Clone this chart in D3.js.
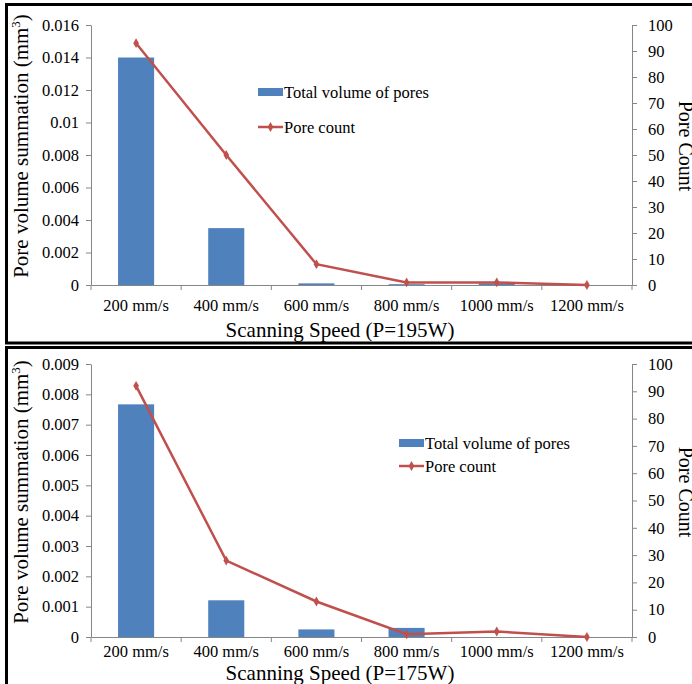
<!DOCTYPE html>
<html><head><meta charset="utf-8">
<script src="https://cdn.jsdelivr.net/npm/d3@7"></script>
<style>
html,body{margin:0;padding:0;background:#fff;}
svg{display:block;}
</style></head>
<body>
<svg id="chart" width="692" height="684"></svg>
<script>
const categories = ["200 mm/s","400 mm/s","600 mm/s","800 mm/s","1000 mm/s","1200 mm/s"];
const volume195 = [0.014, 0.0035, 0.0001, 0.00005, 0.0001, 0];
const count195  = [93, 50, 8, 1, 1, 0];
const volume175 = [0.00767, 0.00121, 0.00025, 0.0003, 0, 0];
const count175  = [92, 28, 13, 1, 2, 0];
const leftTicks195 = [0,0.002,0.004,0.006,0.008,0.01,0.012,0.014,0.016];
const leftTicks175 = [0,0.001,0.002,0.003,0.004,0.005,0.006,0.007,0.008,0.009];
const rightTicks = [0,10,20,30,40,50,60,70,80,90,100];
const seriesNames = ["Total volume of pores","Pore count"];
const xTitles = ["Scanning Speed (P=195W)","Scanning Speed (P=175W)"];

const svg = d3.select("#chart");
const BAR = "#4F81BD", LINE = "#C0504D", AXIS = "#868686";
const FONT = "'Liberation Serif', 'Times New Roman', serif";

const panels = [
  {vol: volume195, cnt: count195, ticks: leftTicks195, title: xTitles[0],
   top: 25, bottom: 285, box: [6.5, 4.5, 343], legX: 258, legY1: 92, legY2: 127,
   xLabPad: 14, xTitleDy: 52, yTitleC: 146},
  {vol: volume175, cnt: count175, ticks: leftTicks175, title: xTitles[1],
   top: 364, bottom: 637, box: [6.5, 347.5, 700], legX: 399, legY1: 443, legY2: 466,
   xLabPad: 8, xTitleDy: 43, yTitleC: 492}
];

const fmt = d => d === 0 ? "0" : String(+d.toFixed(4));

panels.forEach((p) => {
  const g = svg.append("g");
  g.append("rect").attr("x", p.box[0]).attr("y", p.box[1])
    .attr("width", 720).attr("height", p.box[2] - p.box[1])
    .attr("fill", "none").attr("stroke", "#000").attr("stroke-width", 3);

  const x = d3.scaleBand().domain(categories).range([91, 632]).paddingInner(0).paddingOuter(0);
  const yL = d3.scaleLinear().domain([0, d3.max(p.ticks)]).range([p.bottom, p.top]);
  const yR = d3.scaleLinear().domain([0, 100]).range([p.bottom, p.top]);

  const la = g.append("g").attr("transform", "translate(91,0)")
    .call(d3.axisLeft(yL).tickValues(p.ticks).tickFormat(fmt).tickSize(5).tickSizeOuter(0).tickPadding(7));
  const ra = g.append("g").attr("transform", "translate(632,0)")
    .call(d3.axisRight(yR).tickValues(rightTicks).tickSize(5).tickSizeOuter(0).tickPadding(11));
  [la, ra].forEach(a => {
    a.attr("font-family", null).attr("font-size", null);
    a.select(".domain").attr("stroke", AXIS);
    a.selectAll(".tick line").attr("stroke", AXIS);
    a.selectAll("text").attr("fill", "#000").style("font-size", "16.5px");
  });

  const bw = x.bandwidth() * 0.4;
  g.selectAll("rect.bar").data(p.vol).join("rect").attr("class", "bar")
    .attr("x", (d, i) => x(categories[i]) + (x.bandwidth() - bw) / 2)
    .attr("width", bw)
    .attr("y", d => yL(d))
    .attr("height", d => p.bottom - yL(d))
    .attr("fill", BAR);

  const ba = g.append("g").attr("transform", `translate(0,${p.bottom})`)
    .call(d3.axisBottom(x).tickSize(0).tickPadding(p.xLabPad));
  ba.attr("font-family", null).attr("font-size", null);
  ba.select(".domain").attr("stroke", AXIS);
  ba.selectAll("text").attr("fill", "#000").style("font-size", "16.5px");
  const bounds = categories.map(c => x(c)).concat([x(categories[categories.length - 1]) + x.bandwidth()]);
  g.selectAll("line.bt").data(bounds).join("line").attr("class", "bt")
    .attr("x1", d => d).attr("x2", d => d)
    .attr("y1", p.bottom).attr("y2", p.bottom + 5)
    .attr("stroke", AXIS);

  const line = d3.line().x((d, i) => x(categories[i]) + x.bandwidth() / 2).y(d => yR(d));
  g.append("path").datum(p.cnt).attr("d", line)
    .attr("fill", "none").attr("stroke", LINE).attr("stroke-width", 2.5);
  const sym = d3.symbol().type(d3.symbolDiamond).size(28);
  g.selectAll("path.mk").data(p.cnt).join("path").attr("class", "mk")
    .attr("transform", (d, i) => `translate(${x(categories[i]) + x.bandwidth() / 2},${yR(d)})`)
    .attr("d", sym).attr("fill", LINE);

  g.append("text").attr("x", 340).attr("y", p.bottom + p.xTitleDy)
    .attr("text-anchor", "middle").style("font-size", "21px").text(p.title);

  const lt = g.append("text")
    .attr("transform", `translate(28,${p.yTitleC}) rotate(-90)`)
    .attr("text-anchor", "middle").style("font-size", "21px");
  lt.append("tspan").text("Pore volume summation (mm");
  lt.append("tspan").attr("dy", -8).style("font-size", "13px").text("3");
  lt.append("tspan").attr("dy", 8).text(")");

  g.append("text")
    .attr("transform", `translate(679,${p.yTitleC}) rotate(90)`)
    .attr("text-anchor", "middle").style("font-size", "20px").text("Pore Count");

  g.append("rect").attr("x", p.legX).attr("y", p.legY1 - 4).attr("width", 25).attr("height", 8).attr("fill", BAR);
  g.append("text").attr("x", p.legX + 26).attr("y", p.legY1 + 6).style("font-size", "16.5px").text(seriesNames[0]);
  g.append("line").attr("x1", p.legX).attr("x2", p.legX + 25).attr("y1", p.legY2).attr("y2", p.legY2)
    .attr("stroke", LINE).attr("stroke-width", 2.5);
  g.append("path").attr("transform", `translate(${p.legX + 12.5},${p.legY2})`).attr("d", sym).attr("fill", LINE);
  g.append("text").attr("x", p.legX + 26).attr("y", p.legY2 + 5.5).style("font-size", "16.5px").text(seriesNames[1]);
});

svg.selectAll("text").style("font-family", FONT).attr("fill", "#000");
</script>
</body></html>
